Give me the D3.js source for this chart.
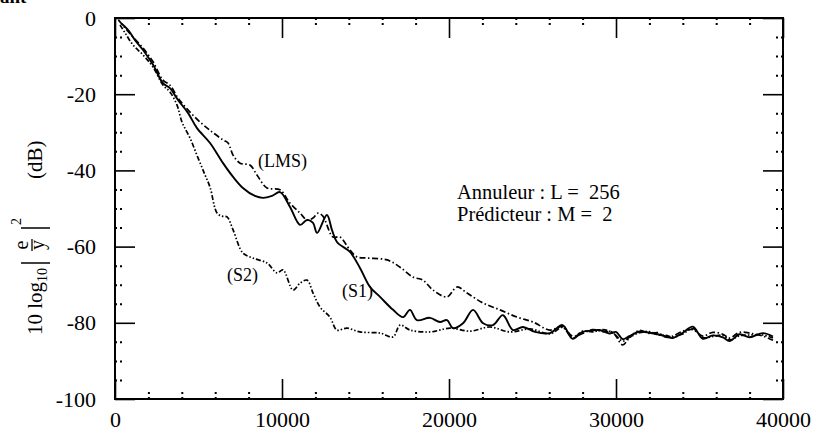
<!DOCTYPE html>
<html>
<head>
<meta charset="utf-8">
<script src="https://cdn.jsdelivr.net/npm/d3@7"></script>
<style>
  body { margin: 0; background: #fff; }
  svg { display: block; }
  text { font-family: 'Liberation Serif', 'Times New Roman', serif; fill: #000; }
</style>
</head>
<body>
<div class="chart"></div>
<script>
// iteration n, error in dB
const xTicks = [0, 10000, 20000, 30000, 40000];
const yTicks = [-100, -80, -60, -40, -20, 0];

const s1 = [
  [400, -1.5], [780, -3.1], [1200, -5.8], [1680, -8.4], [2280, -12.3], [2870, -17.1],
  [3290, -18.4], [3770, -21.5], [4370, -24.9], [4910, -28.9], [5690, -32.8], [6470, -38.1],
  [7070, -41.7], [7660, -44.6], [8380, -46.7], [8860, -47.2], [9400, -46.7], [9880, -45.7],
  [10480, -49.6], [11080, -54.3], [11500, -53.0], [11860, -53.8], [12100, -56.4], [12690, -51.7],
  [12990, -55.6], [13290, -58.8], [14070, -61.4], [14670, -65.6], [15270, -70.6], [15870, -73.2],
  [16650, -76.6], [17250, -78.5], [17660, -76.6], [18080, -79.3], [18860, -78.7], [19460, -79.8],
  [19880, -79.3], [20240, -81.4], [20840, -80.1], [21440, -76.6], [22040, -80.1], [22630, -80.6],
  [23230, -78.0], [23830, -81.9], [24430, -81.1], [25150, -82.4], [26050, -82.7], [26800, -80.6],
  [27400, -84.2], [28000, -82.4], [28600, -82.0], [29000, -81.9], [29600, -82.8], [30000, -82.4],
  [30400, -84.3], [30800, -83.5], [31400, -82.3], [32000, -82.6], [32500, -83.0], [33000, -83.6],
  [33400, -84.0], [34000, -82.6], [34600, -81.0], [35200, -84.2], [35800, -83.3], [36400, -83.8],
  [36800, -84.8], [37400, -83.0], [38000, -83.8], [38800, -82.7], [39400, -83.6]
];

const lms = [
  [200, -0.5], [600, -2.6], [1080, -5.0], [1680, -7.9], [2280, -11.5], [2870, -16.3],
  [3290, -17.6], [3770, -21.0], [4370, -24.1], [5090, -27.3], [5810, -29.9], [6470, -32.0],
  [6770, -32.8], [7070, -36.0], [7490, -38.1], [8080, -38.6], [8500, -41.2], [9100, -44.6],
  [9880, -45.1], [10480, -48.6], [11080, -51.2], [11500, -53.0], [11860, -52.5], [12160, -51.2],
  [12450, -52.0], [13050, -57.5], [13470, -57.5], [14070, -60.9], [14490, -62.7], [15090, -63.0],
  [16290, -63.5], [17070, -65.4], [17840, -68.0], [18440, -68.8], [19040, -71.4], [19880, -73.2],
  [20480, -70.6], [21080, -72.2], [22040, -74.8], [23050, -76.6], [24070, -78.5], [25030, -79.8],
  [26050, -81.9], [26800, -81.0], [27400, -83.5], [28000, -82.8], [28600, -81.8], [29200, -82.3],
  [29800, -82.5], [30400, -85.8], [30800, -84.0], [31400, -82.0], [32000, -82.8], [32500, -82.6],
  [33000, -83.8], [33400, -83.5], [34000, -82.2], [34600, -81.8], [35200, -83.5], [35800, -82.5],
  [36400, -83.0], [36800, -84.0], [37400, -82.5], [38000, -82.7], [38800, -83.5], [39400, -84.6]
];

const s2 = [
  [300, -1.8], [600, -3.9], [1080, -7.1], [1680, -9.7], [2280, -12.9], [2870, -17.6],
  [3290, -19.4], [3710, -22.8], [4010, -27.3], [4490, -31.5], [4970, -36.7], [5390, -41.2],
  [5690, -44.4], [6110, -51.2], [6410, -52.0], [6710, -52.2], [7070, -55.6], [7660, -61.7],
  [8260, -63.0], [9100, -64.3], [9700, -66.9], [10060, -66.1], [10660, -71.4], [11080, -69.6],
  [11500, -68.8], [11860, -72.2], [12280, -75.9], [12870, -78.5], [13290, -81.9], [13890, -81.4],
  [14670, -82.4], [15870, -82.7], [16650, -83.7], [17070, -80.6], [17660, -81.9], [18860, -82.4],
  [20060, -81.4], [21260, -82.2], [22450, -81.1], [23650, -82.4], [24850, -81.6], [26050, -82.9],
  [26800, -81.2], [27400, -84.0], [28000, -82.2], [28600, -82.4], [29200, -81.8], [29800, -82.6],
  [30400, -84.8], [30800, -83.8], [31400, -82.6], [32000, -82.3], [32500, -83.2], [33000, -83.3],
  [33400, -83.8], [34000, -82.9], [34600, -81.5], [35200, -83.9], [35800, -83.6], [36400, -83.3],
  [36800, -84.5], [37400, -83.4], [38000, -83.2], [38800, -83.2], [39400, -84.0]
];

const series = [
  { name: '(S1)', values: s1, dash: null, width: 1.9, label: [342, 297] },
  { name: '(LMS)', values: lms, dash: '6,2.5,1.5,2.5', width: 1.7, label: [258, 167] },
  { name: '(S2)', values: s2, dash: '5,2,1.5,2,1.5,2', width: 1.7, label: [227, 281] }
];

const width = 825;
const height = 432;
const plot = { left: 115, right: 783, top: 18, bottom: 399 };

const svg = d3
  .select('.chart')
  .append('svg')
  .attr('width', width)
  .attr('height', height);

const xScale = d3.scaleLinear().domain([0, 40000]).range([plot.left, plot.right]);
const yScale = d3.scaleLinear().domain([-100, 0]).range([plot.bottom, plot.top]);

const xMinor = d3.range(2000, 40000, 2000).filter((d) => d % 10000 !== 0);
const yMinor = d3.range(-95, 0, 5).filter((d) => d % 20 !== 0);

// plain hyphen for negatives, as in the scan
const fmt = (d) => String(d);

// fragment of the page text cut at the top
svg.append('text').attr('x', 0).attr('y', 3).attr('font-size', 19).attr('font-weight', 'bold').text('ant');

// major ticks, all four sides
const bottomAxis = d3.axisBottom(xScale).tickValues(xTicks).tickSizeInner(-20).tickSizeOuter(0)
  .tickPadding(12).tickFormat(fmt);
const topAxis = d3.axisTop(xScale).tickValues(xTicks).tickSizeInner(-20).tickSizeOuter(0).tickFormat('');
const leftAxis = d3.axisLeft(yScale).tickValues(yTicks).tickSizeInner(-20).tickSizeOuter(0)
  .tickPadding(19).tickFormat(fmt);
const rightAxis = d3.axisRight(yScale).tickValues(yTicks).tickSizeInner(-20).tickSizeOuter(0).tickFormat('');

const axes = [
  [bottomAxis, `translate(0,${plot.bottom})`],
  [topAxis, `translate(0,${plot.top})`],
  [leftAxis, `translate(${plot.left},0)`],
  [rightAxis, `translate(${plot.right},0)`]
];
axes.forEach(([ax, tr]) => {
  const g = svg.append('g').attr('transform', tr).call(ax);
  g.select('.domain').remove();
  g.selectAll('line').attr('stroke', '#000').attr('stroke-width', 1.6);
  g.selectAll('text').attr('font-size', 22).attr('font-family', "'Liberation Serif', serif");
});

// minor ticks (dotted)
const minorAxes = [
  [d3.axisBottom(xScale).tickValues(xMinor), `translate(0,${plot.bottom})`],
  [d3.axisTop(xScale).tickValues(xMinor), `translate(0,${plot.top})`],
  [d3.axisLeft(yScale).tickValues(yMinor), `translate(${plot.left},0)`],
  [d3.axisRight(yScale).tickValues(yMinor), `translate(${plot.right},0)`]
];
minorAxes.forEach(([ax, tr]) => {
  const g = svg.append('g').attr('transform', tr)
    .call(ax.tickSizeInner(-10).tickSizeOuter(0).tickFormat(''));
  g.select('.domain').remove();
  g.selectAll('line').attr('stroke', '#000').attr('stroke-width', 2)
    .attr('stroke-dasharray', '2,3');
});

// frame
svg
  .append('rect')
  .attr('x', plot.left)
  .attr('y', plot.top)
  .attr('width', plot.right - plot.left)
  .attr('height', plot.bottom - plot.top)
  .attr('fill', 'none')
  .attr('stroke', '#000')
  .attr('stroke-width', 2);

// curves
const line = d3
  .line()
  .x((d) => xScale(d[0]))
  .y((d) => yScale(d[1]))
  .curve(d3.curveCatmullRom.alpha(0.5));

svg
  .selectAll('path.curve')
  .data(series)
  .join('path')
  .attr('class', 'curve')
  .attr('d', (d) => line(d.values))
  .attr('fill', 'none')
  .attr('stroke', '#000')
  .attr('stroke-width', (d) => d.width)
  .attr('stroke-dasharray', (d) => d.dash);

svg
  .selectAll('text.curve-label')
  .data(series)
  .join('text')
  .attr('class', 'curve-label')
  .attr('x', (d) => d.label[0])
  .attr('y', (d) => d.label[1])
  .attr('font-size', 18)
  .text((d) => d.name);

// parameters
svg.append('text').attr('x', 457).attr('y', 199).attr('font-size', 20.5)
  .attr('xml:space', 'preserve').text('Annuleur : L =  256');
svg.append('text').attr('x', 457).attr('y', 221).attr('font-size', 20.5)
  .attr('xml:space', 'preserve').text('Prédicteur : M =  2');

// y-axis title: 10 log10 |e/y|^2 (dB)
const yl = svg.append('g').attr('transform', 'translate(42,335) rotate(-90)');
const t1 = yl.append('text').attr('x', 0).attr('y', 0).attr('font-size', 21);
t1.append('tspan').text('10 log');
t1.append('tspan').attr('font-size', 14).attr('dy', 5).text('10');
yl.append('line').attr('x1', 72).attr('x2', 72).attr('y1', -21).attr('y2', 8)
  .attr('stroke', '#000').attr('stroke-width', 1.5);
yl.append('line').attr('x1', 107).attr('x2', 107).attr('y1', -21).attr('y2', 8)
  .attr('stroke', '#000').attr('stroke-width', 1.5);
yl.append('text').attr('x', 90).attr('y', -14).attr('font-size', 20).attr('text-anchor', 'middle').text('e');
yl.append('line').attr('x1', 84).attr('x2', 96).attr('y1', -10).attr('y2', -10)
  .attr('stroke', '#000').attr('stroke-width', 1.3);
yl.append('text').attr('x', 90).attr('y', 2).attr('font-size', 20).attr('text-anchor', 'middle').text('y');
yl.append('text').attr('x', 110).attr('y', -21).attr('font-size', 14).text('2');
yl.append('text').attr('x', 156).attr('y', 0).attr('font-size', 21).text('(dB)');
</script>
</body>
</html>
